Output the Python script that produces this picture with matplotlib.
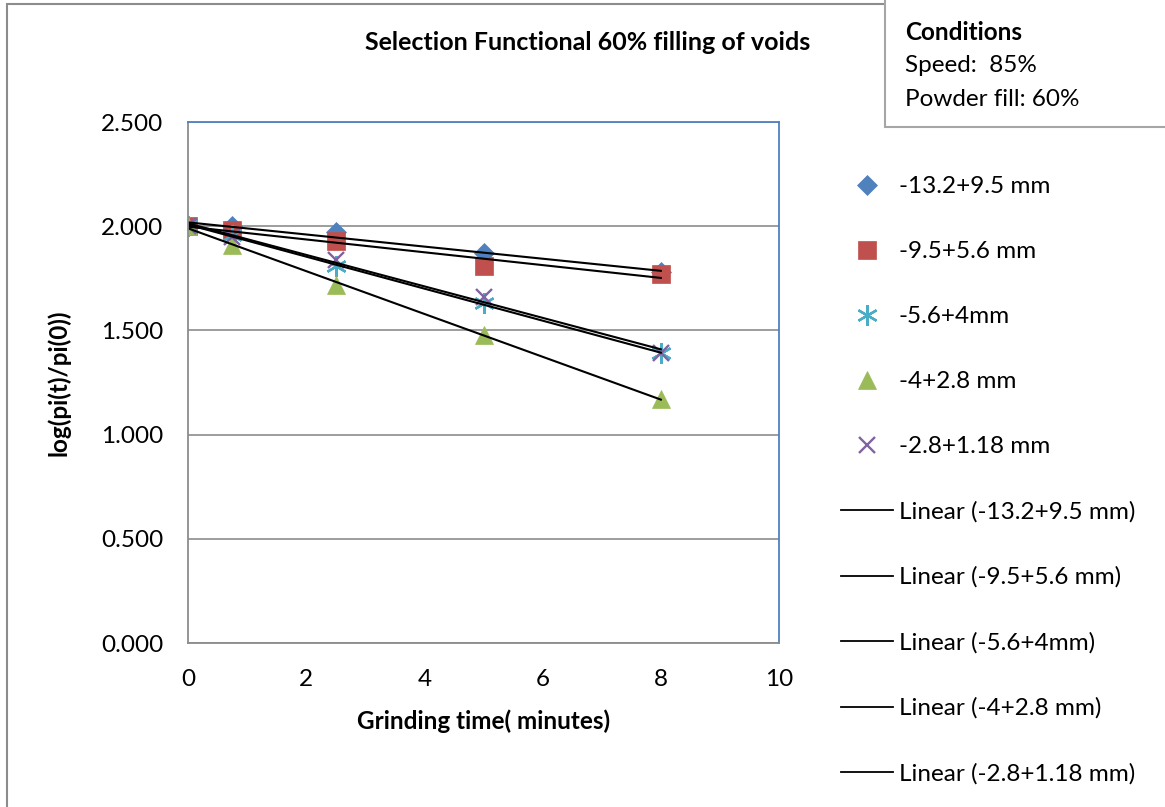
import numpy as np
import matplotlib.pyplot as plt
from matplotlib.lines import Line2D
from matplotlib.patches import Rectangle

plt.rcParams['font.family'] = ['Lato', 'DejaVu Sans']

time_min = [0, 0.75, 2.5, 5, 8]
labels = ['-13.2+9.5 mm', '-9.5+5.6 mm', '-5.6+4mm', '-4+2.8 mm', '-2.8+1.18 mm']
size_13_95 = [2.00, 2.00, 1.97, 1.87, 1.78]
size_95_56 = [2.00, 1.98, 1.93, 1.81, 1.77]
size_56_4 = [2.00, 1.96, 1.81, 1.63, 1.39]
size_4_28 = [2.00, 1.91, 1.72, 1.48, 1.17]
size_28_118 = [2.00, 1.95, 1.84, 1.66, 1.39]
series = [size_13_95, size_95_56, size_56_4, size_4_28, size_28_118]

colors = ['#4F81BD', '#C0504D', '#4BACC6', '#9BBB59', '#8064A2']
markers = ['D', 's', (6, 2, 0), '^', 'x']
msizes = [10, 13, 15, 13, 12]
FS = 17.5


def edge_width(m):
    return 1.7 if m in ('x', (6, 2, 0)) else 0.5


fig = plt.figure(figsize=(11.65, 8.07), dpi=100)
ax = fig.add_axes([0.1614, 0.2032, 0.5073, 0.6456])

for y, c, m, s in zip(series, colors, markers, msizes):
    ax.plot(time_min, y, linestyle='none', marker=m, color=c, markersize=s,
            markeredgewidth=edge_width(m), markeredgecolor=c)

# linear trendlines, fitted like Excel does
x_fit = np.array([0, 8])
for y in series:
    k, b = np.polyfit(time_min, y, 1)
    ax.plot(x_fit, k * x_fit + b, color='black', linewidth=1.5)

ax.set_xlim(0, 10)
ax.set_ylim(0, 2.5)
ax.set_xticks([0, 2, 4, 6, 8, 10])
ax.set_yticks(np.arange(0, 2.51, 0.5))
ax.set_yticklabels(['%.3f' % v for v in np.arange(0, 2.51, 0.5)])
ax.tick_params(length=0, labelsize=FS)
ax.tick_params(axis='y', pad=18)
ax.tick_params(axis='x', pad=19)
ax.grid(axis='y', color='#8c8c8c', linewidth=1.2)
ax.set_axisbelow(True)
ax.spines['left'].set_color('#8c8c8c')
ax.spines['bottom'].set_color('#8c8c8c')
ax.spines['top'].set_color('#4F81BD')
ax.spines['right'].set_color('#4F81BD')
for sp in ax.spines.values():
    sp.set_linewidth(1.3)

ax.set_xlabel('Grinding time( minutes)', fontsize=FS, fontweight='bold', labelpad=14)
ax.set_ylabel('log(pi(t)/pi(0))', fontsize=FS, fontweight='bold', labelpad=22)
fig.text(588 / 1165, 1 - 42 / 807, 'Selection Functional 60% filling of voids',
         ha='center', va='center', fontsize=18, fontweight='bold')

handles = []
for c, m, s in zip(colors, markers, msizes):
    handles.append(Line2D([], [], linestyle='none', marker=m, color=c, markersize=s,
                          markeredgewidth=edge_width(m), markeredgecolor=c))
for lab in labels:
    handles.append(Line2D([], [], color='black', linewidth=1.3))
leg_labels = labels + ['Linear (%s)' % lab for lab in labels]
fig.legend(handles, leg_labels, loc='upper left', bbox_to_anchor=(841 / 1165, 1 - 176 / 807),
           frameon=False, fontsize=FS, handlelength=2.15, handletextpad=0.22,
           labelspacing=1.81, borderaxespad=0, borderpad=0)

# outer chart border and conditions box
fig.add_artist(Rectangle((7 / 1165, -0.1), 1.5, 1.1 - 4 / 807, transform=fig.transFigure,
                         fill=False, edgecolor='#8c8c8c', linewidth=1.5))
fig.add_artist(Rectangle((885 / 1165, 1 - 127 / 807), 1, 127 / 807 + 0.01,
                         transform=fig.transFigure, facecolor='white',
                         edgecolor='#a6a6a6', linewidth=1.5))
fig.text(905 / 1165, 1 - 32 / 807, 'Conditions', fontsize=FS, fontweight='bold', va='center')
fig.text(905 / 1165, 1 - 66 / 807, 'Speed:  85%', fontsize=FS, va='center')
fig.text(905 / 1165, 1 - 99 / 807, 'Powder fill: 60%', fontsize=FS, va='center')

fig.savefig('out.png', dpi=100)
